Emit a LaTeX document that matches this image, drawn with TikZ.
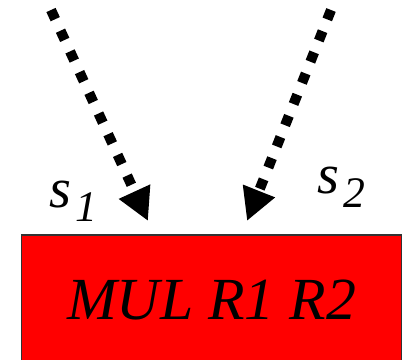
\documentclass[tikz,border=0pt]{standalone}
\usepackage{fontspec}
\setmainfont{Liberation Serif}
\usetikzlibrary{arrows.meta}
\definecolor{opred}{RGB}{255,0,0}

\tikzset{
  opbox/.style={draw=black!80, line width=0.8pt, fill=opred,
    minimum width=9.5cm, minimum height=3.25cm,
    font=\fontsize{42.5}{46}\selectfont\itshape},
  srcarrow/.style={line width=7.2pt, dash pattern=on 7.2pt off 9pt,
    -{Triangle[length=23pt,width=23pt]}},
  srclabel/.style={anchor=base west, inner sep=0pt,
    font=\fontsize{40}{44}\selectfont\itshape},
}
% lowered index after an operand name
\newcommand{\srcsub}[1]{\hspace{3pt}\raisebox{-0.25em}{\fontsize{31}{33}\selectfont #1}}

\begin{document}
\begin{tikzpicture}[x=0.025cm,y=-0.025cm]
  \useasboundingbox (0,0) rectangle (406,360);
  % the instruction box, running off the bottom edge
  \node[opbox] (mul) at (211.5,300) {MUL R1 R2};
  % the two incoming source operands
  \coordinate (s1from) at (51,10);
  \coordinate (s1to) at (148,221);
  \coordinate (s2from) at (331,10);
  \coordinate (s2to) at (247,221);
  \draw[srcarrow] (s1from) -- (s1to);
  \draw[srcarrow] (s2from) -- (s2to);
  \node[srclabel] (s1) at (49,207) {s\srcsub{1}};
  \node[srclabel] (s2) at (317,193) {s\srcsub{2}};
\end{tikzpicture}
\end{document}
